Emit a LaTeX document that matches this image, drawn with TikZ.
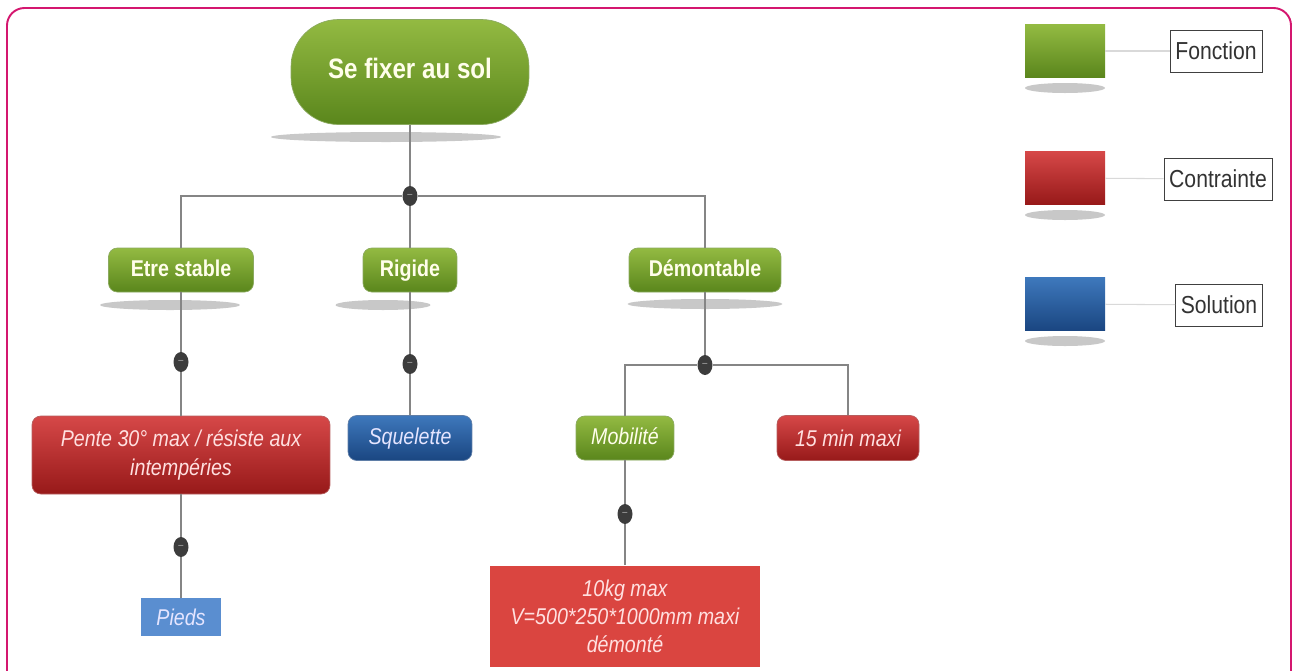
\documentclass[tikz,border=0pt]{standalone}
\usepackage{fontspec}
\setmainfont{Liberation Sans}[FakeStretch=0.86]
\usepackage{xcolor}
\usetikzlibrary{shapes.geometric, positioning}
\definecolor{greentop}{HTML}{93BA42}
\definecolor{greenbot}{HTML}{5A861C}
\definecolor{redtop}{HTML}{D64848}
\definecolor{redbot}{HTML}{971919}
\definecolor{bluetop}{HTML}{3E78BC}
\definecolor{bluebot}{HTML}{1A4681}
\definecolor{lightblue}{HTML}{5A8ED0}
\definecolor{flatred}{HTML}{DA4540}
\definecolor{dotgray}{HTML}{3C3C3C}
\definecolor{linegray}{HTML}{858585}
\definecolor{framepink}{HTML}{D4176F}
\definecolor{shadowgray}{HTML}{C8C8C8}

\begin{document}
\begin{tikzpicture}[
  x=0.02cm, y=-0.02cm,
  fonction/.style={rectangle, rounded corners=5pt, top color=greentop, bottom color=greenbot, draw=greenbot!70, text=white!92!yellow, font=\bfseries\fontsize{13}{15}\selectfont, minimum height=0.88cm, inner sep=2pt, text height=1.55ex, text depth=0.2ex},
  contrainte/.style={rectangle, rounded corners=5pt, top color=redtop, bottom color=redbot, draw=redbot!70, text=white!88!red, font=\itshape\fontsize{13}{16}\selectfont, minimum height=0.9cm, inner sep=2pt, align=center},
  solution/.style={rectangle, rounded corners=5pt, top color=bluetop, bottom color=bluebot, draw=bluebot!70, text=white!90!blue, font=\itshape\fontsize{13}{15}\selectfont, minimum height=0.9cm, inner sep=2pt, text height=1.55ex, text depth=0.2ex},
  dot/.style={ellipse, fill=dotgray, minimum width=0.3cm, minimum height=0.4cm, inner sep=0pt, text=gray!60, font=\fontsize{6}{6}\selectfont},
  link/.style={draw=linegray, line width=1.1pt},
  shad/.style={fill=shadowgray},
  legbox/.style={rectangle, minimum width=1.6cm, minimum height=1.06cm, inner sep=0pt},
  leglabel/.style={rectangle, draw=black!75, fill=white, text=black!80, font=\fontsize{14}{16}\selectfont, minimum height=0.84cm, inner sep=3pt},
]
% bounding box and frame
\useasboundingbox (0,0) rectangle (1294,670);
\draw[framepink, line width=1.1pt, rounded corners=0.35cm] (7,8) rectangle (1291,700);

% shadows
\fill[shad] (386,137) ellipse (2.3cm and 0.1cm);
\fill[shad] (170,305) ellipse (1.4cm and 0.1cm);
\fill[shad] (383,305) ellipse (0.95cm and 0.1cm);
\fill[shad] (705,304) ellipse (1.55cm and 0.1cm);
\fill[shad] (1065,88) ellipse (0.8cm and 0.1cm);
\fill[shad] (1065,215) ellipse (0.8cm and 0.1cm);
\fill[shad] (1065,341) ellipse (0.8cm and 0.1cm);

% tree
\node[fonction, rounded corners=0.95cm, minimum width=4.76cm, minimum height=2.1cm, font=\bfseries\fontsize{16}{18}\selectfont] (root) at (410,72) {Se fixer au sol};
\node[dot] (d1) at (410,196) {--};

\node[fonction, minimum width=2.9cm] (stable) at (181,270) {Etre stable};
\node[fonction, minimum width=1.88cm] (rigide) at (410,270) {Rigide};
\node[fonction, minimum width=3.04cm] (demont) at (705,270) {Démontable};

\node[dot] (d2) at (181,362) {--};
\node[dot] (d3) at (410,364) {--};
\node[dot] (d4) at (705,365) {--};

\node[contrainte, minimum width=5.96cm, minimum height=1.56cm] (pente) at (181,455) {Pente 30° max / résiste aux\\intempéries};
\node[solution, minimum width=2.48cm] (squel) at (410,438) {Squelette};
\node[fonction, minimum width=1.96cm, font=\itshape\fontsize{13}{15}\selectfont] (mobil) at (625,438) {Mobilité};
\node[contrainte, minimum width=2.84cm] (quinze) at (848,438) {15 min maxi};

\node[dot] (d5) at (181,547) {--};
\node[dot] (d6) at (625,514) {--};

\node[rectangle, fill=lightblue, text=white!90!blue, font=\itshape\fontsize{13}{15}\selectfont, minimum width=1.62cm, minimum height=0.76cm] (pieds) at (181,617) {Pieds};
\node[rectangle, fill=flatred, text=white!88!red, font=\itshape\fontsize{13}{16}\selectfont, align=center, minimum width=5.42cm, minimum height=2.02cm] (masse) at (625,616) {10kg max\\V=500*250*1000mm maxi\\démonté};

\draw[link] (root) -- (d1);
\draw[link] (d1) -| (stable);
\draw[link] (d1) -| (demont);
\draw[link] (d1) -- (rigide);
\draw[link] (stable) -- (d2);
\draw[link] (d2) -- (pente);
\draw[link] (pente) -- (d5);
\draw[link] (d5) -- (pieds);
\draw[link] (rigide) -- (d3);
\draw[link] (d3) -- (squel);
\draw[link] (demont) -- (d4);
\draw[link] (d4) -| (mobil);
\draw[link] (d4) -| (quinze);
\draw[link] (mobil) -- (d6);
\draw[link] (d6) -- (masse);

% legend
\node[legbox, top color=greentop, bottom color=greenbot] (lfonc) at (1065,51) {};
\node[legbox, top color=redtop, bottom color=redbot] (lcont) at (1065,178) {};
\node[legbox, top color=bluetop, bottom color=bluebot] (lsol) at (1065,304) {};
\node[leglabel] (tfonc) at (1216,51) {Fonction};
\node[leglabel] (tcont) at (1218,179) {Contrainte};
\node[leglabel] (tsol) at (1219,305) {Solution};
\draw[black!15, line width=0.6pt] (lfonc) -- (tfonc);
\draw[black!15, line width=0.6pt] (lcont) -- (tcont);
\draw[black!15, line width=0.6pt] (lsol) -- (tsol);
\end{tikzpicture}
\end{document}
